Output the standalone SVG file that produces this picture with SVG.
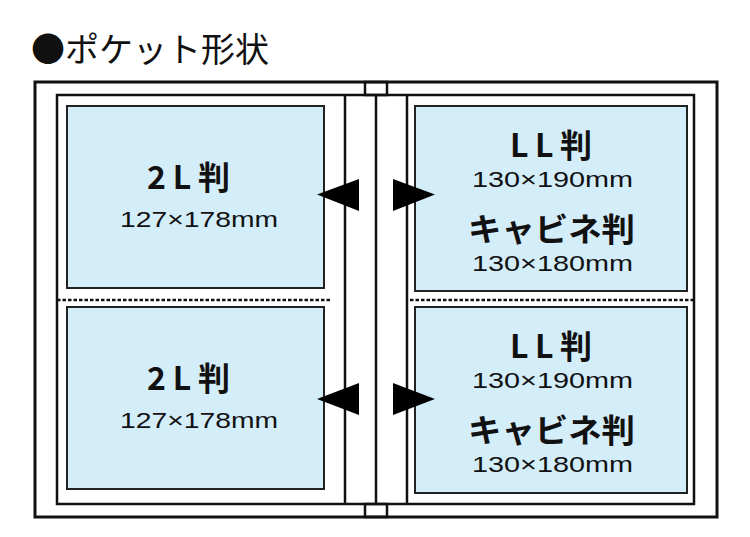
<svg xmlns="http://www.w3.org/2000/svg" width="750" height="537" viewBox="0 0 750 537">
<style>
.ln{fill:none;stroke:#111;stroke-width:2.5}
.ph{fill:#d3edf9;stroke:#222;stroke-width:2}
.dot{fill:none;stroke:#111;stroke-width:2.5;stroke-dasharray:3.5 2}
.ar{fill:#000}
.t{font-family:"Noto Sans CJK JP","Noto Sans",sans-serif;fill:#111}
.big{font-size:32px;font-weight:700}
.sm{font-family:"Liberation Sans",Arial,sans-serif;font-size:22px;font-weight:400}
.title{font-size:34px;font-weight:400}
</style>
<rect width="750" height="537" fill="#fff"/>
<text class="t title" x="31" y="62">●ポケット形状</text>
<g id="album">
<rect x="35" y="82" width="682" height="435" fill="#fff" stroke="#111" stroke-width="3"/>
<rect class="ln" x="57" y="95" width="637" height="409"/>
<line class="ln" x1="345" y1="95" x2="345" y2="504"/>
<line class="ln" x1="376" y1="95" x2="376" y2="504" stroke-width="2"/>
<line class="ln" x1="407" y1="95" x2="407" y2="504"/>
<rect class="ln" x="365" y="82" width="22" height="13" stroke-width="2"/>
<rect class="ln" x="365" y="504" width="22" height="13" stroke-width="2"/>
</g>
<g id="dividers">
<line class="dot" x1="57" y1="300" x2="331" y2="300"/>
<line class="dot" x1="410" y1="300" x2="694" y2="300"/>
</g>
<g id="photo-left-top">
<rect class="ph" x="67" y="106" width="257" height="182"/>
<text class="t big" x="147" y="189" textLength="83" lengthAdjust="spacing">2L判</text>
<text class="t sm" x="120" y="227" textLength="158" lengthAdjust="spacingAndGlyphs">127×178mm</text>
</g>
<g id="photo-left-bottom">
<rect class="ph" x="67" y="307" width="257" height="182"/>
<text class="t big" x="147" y="390" textLength="83" lengthAdjust="spacing">2L判</text>
<text class="t sm" x="120" y="428" textLength="158" lengthAdjust="spacingAndGlyphs">127×178mm</text>
</g>
<g id="photo-right-top">
<rect class="ph" x="415" y="106" width="272" height="185"/>
<text class="t big" x="510" y="157" textLength="82" lengthAdjust="spacing">LL判</text>
<text class="t sm" x="472" y="187" textLength="161" lengthAdjust="spacingAndGlyphs">130×190mm</text>
<text class="t big" x="468" y="241" textLength="167" lengthAdjust="spacingAndGlyphs">キャビネ判</text>
<text class="t sm" x="472" y="271" textLength="161" lengthAdjust="spacingAndGlyphs">130×180mm</text>
</g>
<g id="photo-right-bottom">
<rect class="ph" x="415" y="307" width="272" height="186"/>
<text class="t big" x="510" y="358" textLength="82" lengthAdjust="spacing">LL判</text>
<text class="t sm" x="472" y="388" textLength="161" lengthAdjust="spacingAndGlyphs">130×190mm</text>
<text class="t big" x="468" y="442" textLength="167" lengthAdjust="spacingAndGlyphs">キャビネ判</text>
<text class="t sm" x="472" y="472" textLength="161" lengthAdjust="spacingAndGlyphs">130×180mm</text>
</g>
<g id="connectors">
<polygon class="ar" points="317,194.5 359,179 359,211"/>
<polygon class="ar" points="393,179 435,194.5 393,211"/>
<polygon class="ar" points="317,399 359,383 359,415"/>
<polygon class="ar" points="393,383 435,399 393,415"/>
</g>
</svg>
